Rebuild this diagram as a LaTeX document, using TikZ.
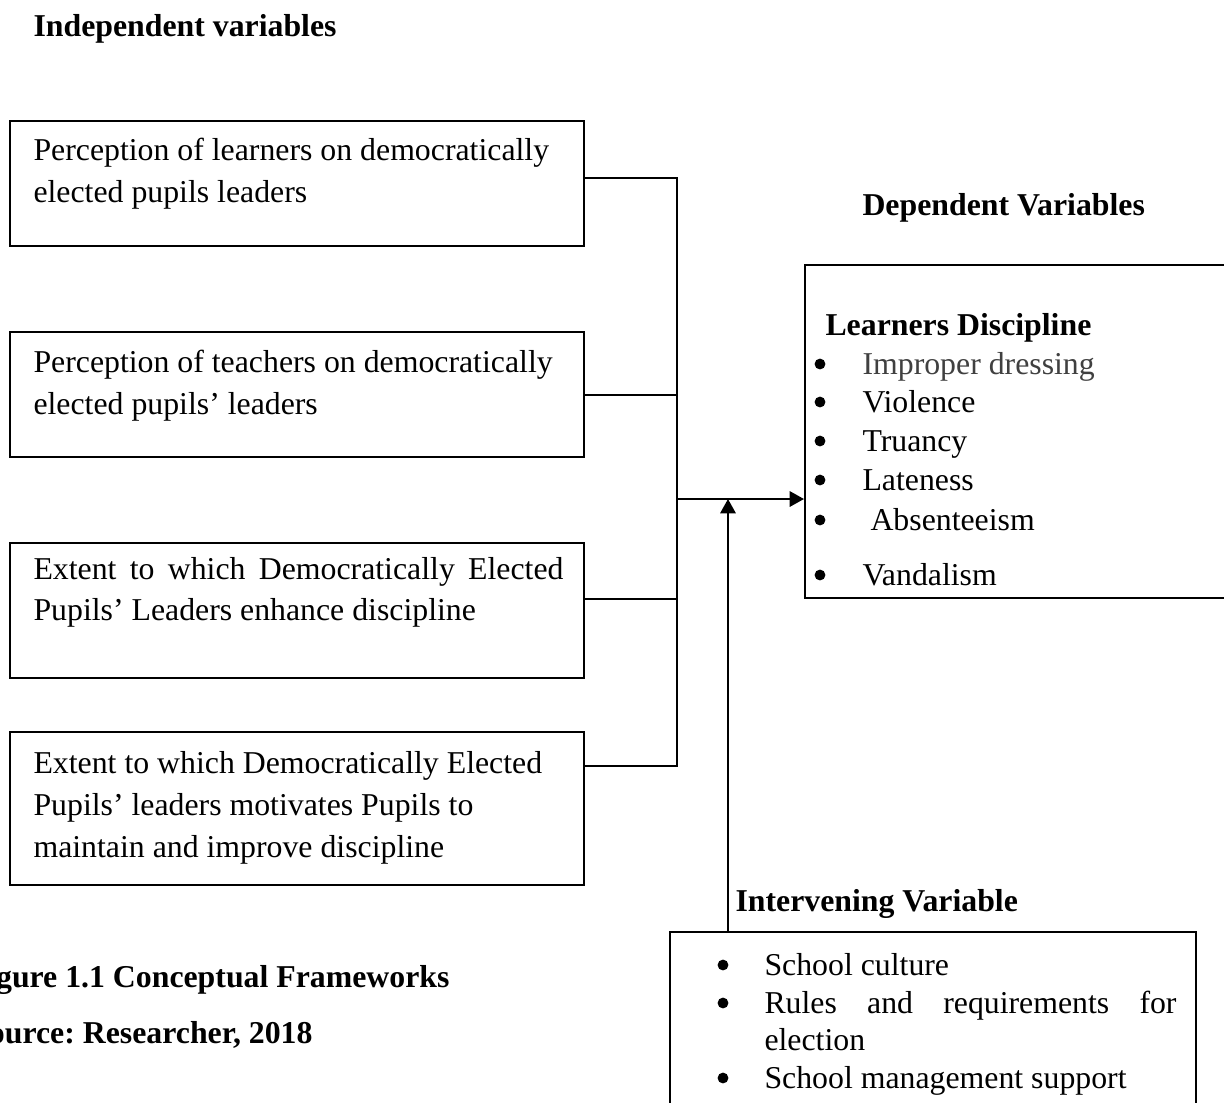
\documentclass[tikz,border=0pt]{standalone}
\usepackage{fontspec}
\setmainfont{Liberation Serif}
\usetikzlibrary{arrows.meta,fit}
\definecolor{darkgraytext}{HTML}{404040}
\frenchspacing
\begin{document}
\begin{tikzpicture}[x=0.3774pt,y=-0.3774pt,
  box/.style={draw,line width=0.75pt,inner sep=0pt,fit={#1}},
  txt/.style={anchor=base west,inner sep=0pt,font=\fontsize{12pt}{15.87pt}\selectfont},
  btxt/.style={txt,font=\fontsize{12pt}{15.87pt}\selectfont\bfseries},
  dot/.style={circle,fill,inner sep=0pt,minimum size=4.1pt},
  conn/.style={line width=0.75pt},
  arr/.style={line width=0.75pt,-{Triangle[length=5.4pt,width=5.8pt]}}]
\clip (0,0) rectangle (1224,1102);
\fill[white] (0,0) rectangle (1224,1102);

% titles
\node[btxt] (tind) at (33,36) {Independent variables};
\node[btxt] (tdep) at (862,215) {Dependent Variables};
\node[btxt] (tint) at (735,911) {Intervening Variable};
\node[btxt,anchor=base east] (tfig) at (450,987) {Figure 1.1 Conceptual Frameworks};
\node[btxt,anchor=base east] (tsrc) at (313,1043) {Source: Researcher, 2018};

% independent boxes
\node[box={(10,121)(584,246)}] (b1) {};
\node[txt] (b1a) at (33,160) {Perception of learners on democratically};
\node[txt] (b1b) at (33,202) {elected pupils leaders};

\node[box={(10,332)(584,457)}] (b2) {};
\node[txt] (b2a) at (33,372) {Perception of teachers on democratically};
\node[txt] (b2b) at (33,414) {elected pupils’ leaders};

\node[box={(10,543)(584,678)}] (b3) {};
\node[txt] (b3a) at (33,579) {\makebox[200pt][s]{Extent to which Democratically Elected}};
\node[txt] (b3b) at (33,620) {Pupils’ Leaders enhance discipline};

\node[box={(10,732)(584,885)}] (b4) {};
\node[txt] (b4a) at (33,773) {Extent to which Democratically Elected};
\node[txt] (b4b) at (33,815) {Pupils’ leaders motivates Pupils to};
\node[txt] (b4c) at (33,857) {maintain and improve discipline};

% dependent box
\node[box={(805,265)(1240,598)}] (dep) {};
\node[btxt] (dh) at (825,335) {Learners Discipline};
\foreach \y/\t/\n/\dx in {374/{\color{darkgraytext}Improper dressing}/d1/0,
                         412/Violence/d2/0,
                         451/Truancy/d3/0,
                         490/Lateness/d4/0,
                         530/Absenteeism/d5/8,
                         585/Vandalism/d6/0}{
  \node[dot] (\n b) at (820,\y-10) {};
  \node[txt] (\n) at (862+\dx,\y) {\t};
}

% intervening box
\node[box={(670,932)(1196,1120)}] (inter) {};
\node[dot] (i1b) at (723,965) {};
\node[txt] (i1) at (764,975) {School culture};
\node[dot] (i2b) at (723,1003) {};
\node[txt] (i2) at (764,1013) {\makebox[155.5pt][s]{Rules and requirements for}};
\node[txt] (i2c) at (764,1050) {election};
\node[dot] (i3b) at (723,1078) {};
\node[txt] (i3) at (764,1088) {School management support};

% connectors
\coordinate (j1) at (677,178);
\coordinate (j2) at (677,395);
\coordinate (j3) at (677,599);
\coordinate (j4) at (677,766);
\coordinate (jm) at (677,499);
\coordinate (ja) at (728,499);
\draw[conn] (b1.east |- j1) -- (j1) -- (j4) -- (b4.east |- j4);
\draw[conn] (b2.east |- j2) -- (j2);
\draw[conn] (b3.east |- j3) -- (j3);
\draw[arr] (jm) -- (dep.west |- jm);
\draw[arr] (inter.north -| ja) -- (ja);
\end{tikzpicture}
\end{document}
